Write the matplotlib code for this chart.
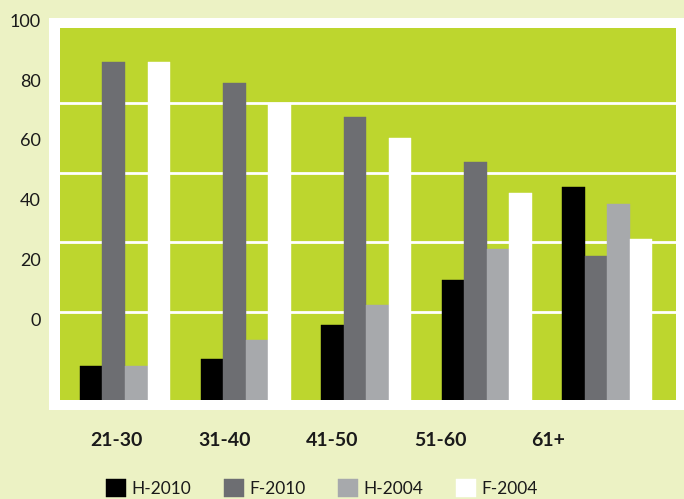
import numpy as np
import matplotlib
matplotlib.use("Agg")
import matplotlib.pyplot as plt
from matplotlib.patches import Rectangle

plt.rcParams['font.family'] = ['Lato', 'DejaVu Sans']

# donnees
groupes = ['21-30', '31-40', '41-50', '51-60', '61+']
series = ['H-2010', 'F-2010', 'H-2004', 'F-2004']
h_2010 = [9.5, 11.4, 21.0, 33.5, 59.6]
f_2010 = [94.5, 88.5, 79.2, 66.5, 40.3]
h_2004 = [9.5, 16.8, 26.6, 42.2, 54.8]
f_2004 = [94.5, 82.9, 73.2, 58.0, 45.0]
etiquettes_y = ['0', '20', '40', '60', '80', '100']

couleurs = ['#000000', '#6D6E72', '#A7A9AC', '#FFFFFF']
fond = '#ECF2C4'
vert = '#BDD62E'

fig = plt.figure(figsize=(6.84, 4.99), dpi=100, facecolor=fond)

# cadre blanc autour de la zone verte
fig.patches.append(Rectangle((49/684, 89/499), 635/684, 392/499,
                             transform=fig.transFigure, facecolor='white',
                             edgecolor='none', zorder=-5))

ax = fig.add_axes([60/684, 99/499, 616/684, 372/499])
ax.set_zorder(1)
ax.set_facecolor(vert)
for s in ax.spines.values():
    s.set_visible(False)

x = np.arange(len(groupes))
w = 0.1866
valeurs = [h_2010, f_2010, h_2004, f_2004]
barres = []
for k, (nom, v, c) in enumerate(zip(series, valeurs, couleurs)):
    b = ax.bar(x + (k - 1.5) * w, v, w, color=c, label=nom, zorder=3,
               edgecolor=c, linewidth=0.3)
    barres.append(b)

ax.set_xlim(-0.539, 4.569)
ax.set_ylim(0, 104)

# lignes de grille (decalees par rapport aux etiquettes, comme sur l'original)
ax.set_yticks(24.6 + 19.47 * np.arange(4))
ax.set_yticklabels([])
ax.yaxis.grid(True, color='white', linewidth=2.0)
ax.tick_params(axis='y', length=0)

# etiquettes y
for i, t in enumerate(etiquettes_y):
    ax.text(-0.031, 22.0 + i * 16.76, t, transform=ax.get_yaxis_transform(),
            ha='right', va='center', fontsize=13, color='#1a1a1a', clip_on=False)

# etiquettes x (legerement decalees a gauche des groupes)
ax.set_xticks(-0.07 + 0.895 * x)
ax.set_xticklabels(groupes, fontsize=14, fontweight='bold', color='#1a1a1a')
ax.tick_params(axis='x', length=0, pad=23)

leg = fig.legend(handles=barres, labels=series, ncol=4, loc='center left',
                 bbox_to_anchor=(106/684, 11/499), frameon=False, fontsize=12.5,
                 handlelength=1.15, handleheight=1.2, handletextpad=0.3,
                 columnspacing=1.9, borderaxespad=0, borderpad=0)
for t in leg.get_texts():
    t.set_color('#1a1a1a')

fig.savefig('out.png', dpi=100, facecolor=fond)
